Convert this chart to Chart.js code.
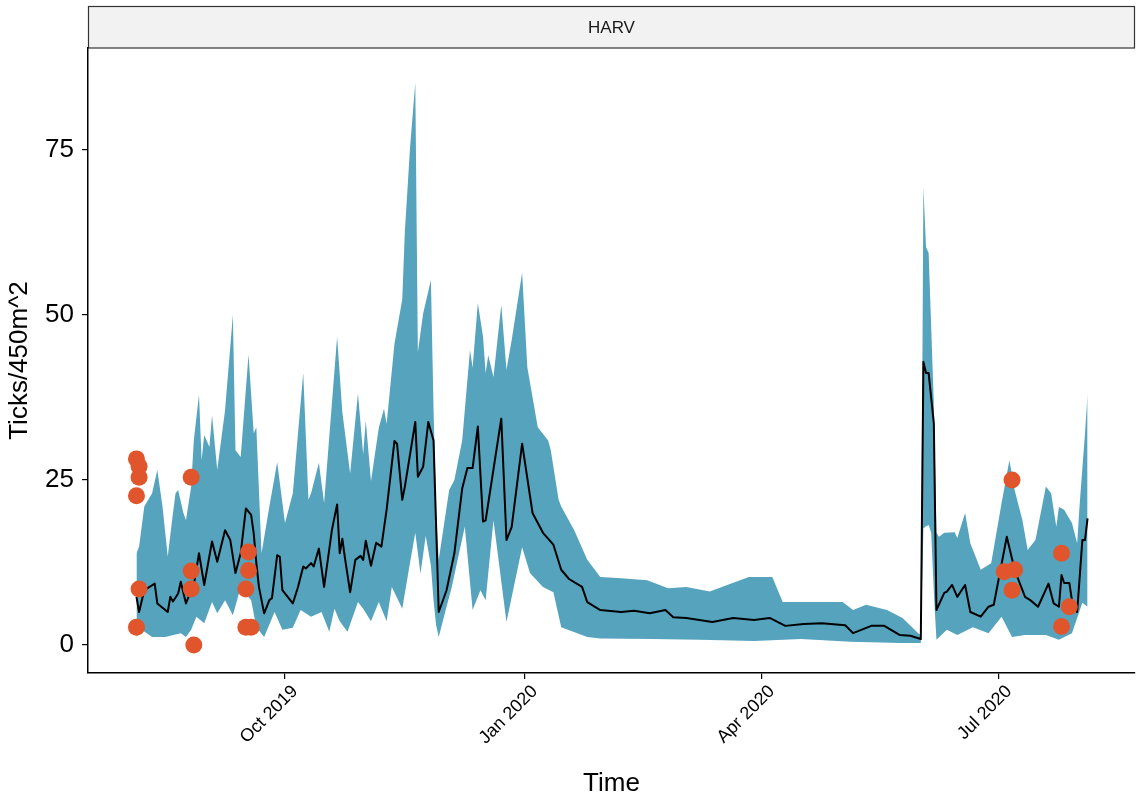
<!DOCTYPE html>
<html><head><meta charset="utf-8">
<script src="https://cdn.jsdelivr.net/npm/chart.js@4.4.1/dist/chart.umd.min.js"></script>
<style>html,body{margin:0;padding:0;background:#fff;}canvas{display:block;}</style>
</head><body>
<canvas id="c" width="1139" height="801" style="width:1139px;height:801px"></canvas>
<script>
// x values are days since 2019-10-01
const stripLabel = 'HARV';
const xTitle = 'Time';
const yTitle = 'Ticks/450m^2';
const tickDays = [0, 92, 183, 274];
const tickLabels = ['Oct 2019', 'Jan 2020', 'Apr 2020', 'Jul 2020'];
const yTicks = [0, 25, 50, 75];

const medianDays = [
  -57,-56,-54,-50,-49,-45,-44,-43,-41,-40,
  -38,-36,-35,-33,-31,-28,-26,-23,-21,-19,
  -17,-15,-13,-12,-11,-10,-8,-6,-5,-3,
  -2,-1,3,5,7,8,10,11,13,15,
  18,20,21,22,23,25,27,29,30,31,
  33,35,37,39,42,43,45,46,50,51,
  53,55,57,59,62,65,68,70,72,74,
  76,77,83,85,87,91,95,99,103,106,
  109,114,116,121,129,134,140,146,149,154,
  164,172,180,186,192,199,206,215,218,225,
  230,236,240,244,245,246,247,249,250,253,
  254,256,258,261,263,267,270,272,277,280,
  284,286,289,293,295,297,298,299,301,302,
  304,306,307,308];
const medianVals = [
  7.3,5.0,8.3,9.3,6.3,5.0,7.3,6.6,7.8,9.6,
  6.3,8.3,9.1,13.9,9.1,15.7,12.6,17.4,15.9,10.9,
  13.9,20.7,19.7,16.9,12.4,8.8,4.8,6.8,7.1,13.6,
  13.4,8.3,6.3,8.8,11.9,11.6,12.4,11.9,14.6,8.8,
  17.4,21.3,13.9,16.1,13.2,8.0,12.9,13.5,12.9,15.8,
  12.0,15.5,14.9,20.5,30.9,30.5,22,24,33.8,25.5,
  27,33.8,31,5.0,8.3,13.9,23.7,26.8,26.8,33.1,
  18.7,18.9,34.3,15.9,17.9,30.5,20,17,15.2,11.4,
  10,8.8,6.5,5.3,5.0,5.2,4.8,5.3,4.2,4.1,
  3.5,4.1,3.8,4.1,2.9,3.2,3.3,3.0,1.8,2.9,
  2.9,1.5,1.4,0.9,42.9,41.2,41.2,33.6,5.3,7.9,
  8.1,9.1,7.3,9.1,5.0,4.3,5.8,6.1,16.4,11.4,
  7.3,6.8,5.8,9.3,6.3,5.8,10.6,9.4,9.4,6.8,
  5.0,15.9,15.9,19.2];

const upperDays = [
  -57,-56,-54,-51,-49,-47,-45,-43,-42,-41,
  -39,-38,-36,-35,-33,-32,-31,-29,-28,-26,
  -23,-20,-19,-17,-14,-12,-11,-9,-6,-3,
  0,3,7,9,10,13,15,20,22,25,
  28,30,31,33,36,38,39,42,45,46,
  48,50,51,53,56,57,58,59,63,65,
  68,71,72,74,76,77,78,80,83,85,
  87,91,93,97,101,102,105,106,111,116,
  121,129,139,147,154,163,171,178,187,191,
  200,214,218,223,231,237,243,244,245,246,
  247,249,250,251,253,257,258,261,263,267,
  271,275,278,280,283,285,288,292,294,296,
  297,299,302,304,305,307,308];
const upperVals = [
  13.9,14.9,21,23,26.5,21,13.4,20,23,23.5,
  20,18.9,24,31,37.9,28,31.8,30,34.8,26.5,
  35.6,50,29.5,28.5,44,32.1,33,13.9,21,27.7,
  18.5,23,41.2,22,23,27.6,21.5,46.7,35.3,26,
  38.1,28.9,34,24.8,32.9,35.8,33.5,45.6,52.4,62.7,
  75.4,85.2,44.4,50.2,55.3,36,20,12.9,23.5,25,
  31,44.7,42,51.8,46.7,41.2,43.9,40.6,51.5,41.7,
  46.2,56.4,42.1,33,31,29.5,22,21,17.4,12.9,
  10.3,10.1,9.8,8.6,8.8,8.1,9.3,10.3,10.3,6.5,
  6.5,6.5,5.3,6.1,5.3,4.1,1.8,1.5,69.4,60.3,
  59.4,36.6,17,16.4,17,17.1,16.2,20,15.4,11.4,
  12.4,21.5,28,23.5,18.9,14.4,15.9,24,23,17.9,
  20.9,20.5,18.5,15.4,21.5,32,38];

const lowerDays = [
  -57,-55,-51,-46,-40,-38,-36,-34,-31,-28,
  -26,-23,-20,-17,-13,-11,-8,-4,-1,3,
  6,10,14,17,19,21,24,28,30,33,
  36,39,41,45,48,50,52,54,56,57,
  58,59,62,64,69,72,75,77,80,85,
  91,94,99,103,106,116,121,141,159,180,
  198,217,236,243,244,245,246,247,248,249,
  250,254,258,264,270,275,279,284,292,297,
  302,306,308];
const lowerVals = [
  1.2,2.3,1.2,1.2,1.8,1.2,2.3,4.3,3.3,6.5,
  4.8,6.8,4.5,8.8,6.8,2.7,1.2,5.0,2.3,2.6,
  5.3,4.3,5.0,2.0,5.5,3.6,2.0,6.5,5.5,3.6,
  6.5,3.6,8.8,5.5,12.5,17,10.8,16.5,12,6.8,
  3,1.2,5.8,8.8,17.9,5.3,8.3,6.8,18.9,3.5,
  14.8,10.9,8.8,8.0,2.7,1.2,1.0,0.9,0.8,0.6,
  0.9,0.5,0.3,0.3,0.3,17.7,18,18.2,17,8,
  0.8,2.3,1.5,2.7,1.8,4.3,1.2,1.5,1.5,0.8,
  1.8,6.4,5.8];

const obsDays = [-57,-56,-56,-57,-56,-57,-36,-36,-36,-35,-14,-14,-15,-15,-13,276,279,279,280,298,298,301];
const obsVals = [28.2,27.1,25.4,22.6,8.5,2.7,25.4,11.2,8.5,0,14.1,11.3,8.5,2.7,2.7,11.1,25,8.3,11.4,13.9,2.8,5.8];

const FONT = "'Liberation Sans', Arial, sans-serif";
const ribbonColor = '#56a3be';
const obsColor = '#e1552c';

function pts(xs, ys) { return xs.map((x, i) => ({ x: x, y: ys[i] })); }

const stripPlugin = {
  id: 'strip',
  beforeDraw(chart) {
    const ctx = chart.ctx, a = chart.chartArea;
    ctx.save();
    ctx.fillStyle = '#fff';
    ctx.fillRect(0, 0, chart.width, chart.height);
    ctx.fillStyle = '#f2f2f2';
    ctx.fillRect(a.left, 6, a.right - a.left, a.top - 6);
    ctx.strokeStyle = '#333';
    ctx.lineWidth = 1.2;
    ctx.strokeRect(a.left + 0.5, 6.5, a.right - a.left - 1, a.top - 6.5);
    ctx.fillStyle = '#1a1a1a';
    ctx.font = '17px ' + FONT;
    ctx.textAlign = 'center';
    ctx.textBaseline = 'middle';
    ctx.fillText(stripLabel, (a.left + a.right) / 2, (6 + a.top) / 2 + 1);
    ctx.restore();
  }
};

new Chart(document.getElementById('c'), {
  type: 'line',
  data: {
    datasets: [
      { label: 'obs', data: pts(obsDays, obsVals), showLine: false,
        pointRadius: 8.5, pointBackgroundColor: obsColor, pointBorderWidth: 0,
        borderColor: obsColor },
      { label: 'median', data: pts(medianDays, medianVals), borderColor: '#000',
        borderWidth: 2, pointRadius: 0, tension: 0, fill: false, borderJoinStyle: 'round' },
      { label: 'upper', data: pts(upperDays, upperVals), borderColor: 'rgba(0,0,0,0)',
        borderWidth: 0, pointRadius: 0, tension: 0, fill: '+1', backgroundColor: ribbonColor },
      { label: 'lower', data: pts(lowerDays, lowerVals), borderColor: 'rgba(0,0,0,0)',
        borderWidth: 0, pointRadius: 0, tension: 0, fill: false }
    ]
  },
  options: {
    responsive: false,
    animation: false,
    devicePixelRatio: 1,
    layout: { autoPadding: false, padding: { top: 48, right: 4, left: 0, bottom: 0 } },
    plugins: { legend: { display: false }, tooltip: { enabled: false } },
    scales: {
      x: {
        type: 'linear', min: -75.6, max: 326.2,
        afterBuildTicks: s => { s.ticks = tickDays.map(v => ({ value: v })); },
        afterFit: s => { s.height = 128; s.paddingLeft = 0; s.paddingRight = 0; },
        ticks: {
          autoSkip: false, maxRotation: 45, minRotation: 45, padding: 2, labelOffset: 10,
          color: '#000', font: { family: FONT, size: 18 },
          callback: v => tickLabels[tickDays.indexOf(v)]
        },
        grid: { drawOnChartArea: false, drawTicks: true, tickLength: 6, color: '#000', lineWidth: 1.2 },
        border: { color: '#000', width: 1.5 },
        title: { display: true, text: xTitle, color: '#000',
          font: { family: FONT, size: 26 }, padding: { top: 0, bottom: 2 } }
      },
      y: {
        type: 'linear', min: -4.24, max: 90.45,
        afterBuildTicks: s => { s.ticks = yTicks.map(v => ({ value: v })); },
        afterFit: s => { s.width = 88; s.paddingTop = 0; s.paddingBottom = 0; },
        ticks: { padding: 8, color: '#000', font: { family: FONT, size: 26 } },
        grid: { drawOnChartArea: false, drawTicks: true, tickLength: 6, color: '#000', lineWidth: 1.2 },
        border: { color: '#000', width: 1.5 },
        title: { display: true, text: yTitle, color: '#000',
          font: { family: FONT, size: 26 }, padding: { top: 4, bottom: 0 } }
      }
    }
  },
  plugins: [stripPlugin]
});
</script>
</body></html>
